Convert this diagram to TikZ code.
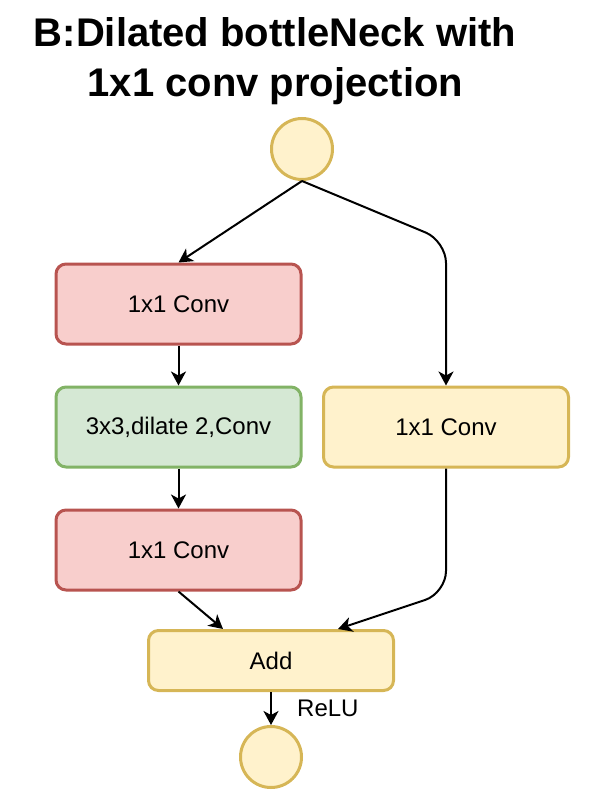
\documentclass[tikz,border=0pt]{standalone}
\usepackage{fontspec}
\setmainfont{Liberation Sans}
\usetikzlibrary{arrows.meta}
\definecolor{redfill}{HTML}{F8CECC}
\definecolor{redline}{HTML}{B85450}
\definecolor{greenfill}{HTML}{D5E8D4}
\definecolor{greenline}{HTML}{82B366}
\definecolor{yelfill}{HTML}{FFF2CC}
\definecolor{yelline}{HTML}{D6B656}
\tikzset{
  boxbase/.style={rectangle, rounded corners=10pt, line width=3pt, minimum width=245pt, minimum height=80pt, inner sep=0pt, font=\fontsize{24}{28}\selectfont},
  redbox/.style={boxbase, draw=redline, fill=redfill},
  greenbox/.style={boxbase, draw=greenline, fill=greenfill},
  yelbox/.style={boxbase, draw=yelline, fill=yelfill},
  yelcirc/.style={circle, line width=3pt, draw=yelline, fill=yelfill, minimum size=61pt, inner sep=0pt},
  conn/.style={line width=2pt, -{Stealth[length=14pt,width=15pt,inset=4pt]}},
  titletext/.style={inner sep=0pt, anchor=base, font=\fontsize{40}{44}\selectfont\bfseries}
}
\begin{document}
\begin{tikzpicture}[x=1pt,y=-1pt]
\useasboundingbox (0,0) rectangle (590,808);
\node[titletext] (t1) at (275,47) {B:Dilated bottleNeck with};
\node[titletext] (t2) at (275.5,96) {1x1 conv projection};
\node[yelcirc] (c1) at (302,149) {};
\node[redbox] (b1) at (178.5,304) {1x1 Conv};
\node[greenbox] (b2) at (178.5,427) {3x3,dilate 2,Conv};
\node[redbox] (b3) at (178.5,550) {1x1 Conv};
\node[yelbox] (r) at (446,427) {1x1 Conv};
\node[yelbox, minimum height=60pt] (add) at (271,660.5) {Add};
\node[yelcirc] (c2) at (271,757) {};
\node[inner sep=0pt, anchor=base west, font=\fontsize{24}{28}\selectfont] (relu) at (297,716) {ReLU};
\coordinate (k1) at (446,241);
\coordinate (k2) at (446,593);
\draw[conn] (c1.south) -- (b1.north);
\draw[conn, rounded corners=22pt] (c1.south) -- (k1) -- (r.north);
\draw[conn] (b1.south) -- (b2.north);
\draw[conn] (b2.south) -- (b3.north);
\draw[conn] (b3.south) -- ([xshift=-48pt]add.north);
\draw[conn, rounded corners=22pt] (r.south) -- (k2) -- ([xshift=67pt]add.north);
\draw[conn] (add.south) -- (c2.north);
\end{tikzpicture}
\end{document}
